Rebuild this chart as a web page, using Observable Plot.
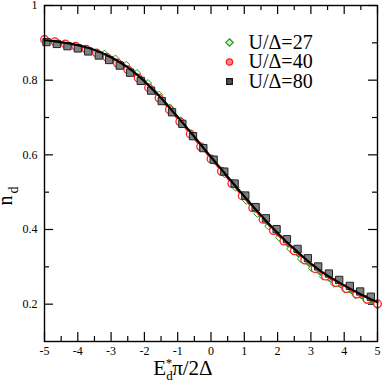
<!DOCTYPE html>
<html>
<head>
<meta charset="utf-8">
<script src="https://cdn.jsdelivr.net/npm/d3@7"></script>
<script src="https://cdn.jsdelivr.net/npm/@observablehq/plot@0.6"></script>
<style>
  html, body { margin: 0; padding: 0; background: #fff; }
  #chart { width: 382px; height: 381px; }
</style>
</head>
<body>
<div id="chart"></div>
<script>
// ---- data ----
const seriesLabels = ["U/Δ=27", "U/Δ=40", "U/Δ=80"];
const seriesColors = ["#1fa01f", "#ff2020", "#000000"];

// U/Δ=27 (green diamonds + line)
const greenX = [-3.2, -2.87, -2.54, -2.22, -1.89, -1.56, -1.23, -0.9, -0.58, -0.25, 0.08, 0.41, 0.74, 1.06, 1.39, 1.72, 2.05, 2.38, 2.7, 3.03, 3.36, 3.69, 4.02, 4.34, 4.67, 5.0];
const greenY = [0.871, 0.858, 0.841, 0.819, 0.792, 0.761, 0.727, 0.692, 0.656, 0.620, 0.584, 0.548, 0.512, 0.477, 0.442, 0.409, 0.378, 0.348, 0.321, 0.296, 0.274, 0.255, 0.239, 0.224, 0.210, 0.197];

// U/Δ=40 (red circles + line)
const redX = [-5.0, -4.688, -4.375, -4.063, -3.75, -3.438, -3.125, -2.813, -2.5, -2.188, -1.875, -1.563, -1.25, -0.938, -0.625, -0.313, 0.0, 0.313, 0.625, 0.938, 1.25, 1.563, 1.875, 2.188, 2.5, 2.813, 3.125, 3.438, 3.75, 4.063, 4.375, 4.688, 5.0];
const redY = [0.909, 0.903, 0.897, 0.891, 0.883, 0.873, 0.861, 0.846, 0.828, 0.806, 0.780, 0.752, 0.721, 0.689, 0.656, 0.622, 0.589, 0.556, 0.523, 0.490, 0.458, 0.427, 0.397, 0.369, 0.343, 0.318, 0.295, 0.275, 0.258, 0.242, 0.227, 0.213, 0.201];

// U/Δ=80 (black squares)
const blackX = [-4.94, -4.63, -4.31, -4.0, -3.69, -3.37, -3.06, -2.74, -2.43, -2.11, -1.8, -1.48, -1.17, -0.86, -0.54, -0.23, 0.08, 0.4, 0.71, 1.03, 1.34, 1.65, 1.97, 2.28, 2.6, 2.91, 3.22, 3.54, 3.85, 4.17, 4.48, 4.8];
const blackY = [0.902, 0.897, 0.891, 0.885, 0.877, 0.866, 0.854, 0.839, 0.820, 0.798, 0.772, 0.744, 0.714, 0.683, 0.650, 0.618, 0.587, 0.555, 0.523, 0.491, 0.460, 0.430, 0.401, 0.374, 0.348, 0.323, 0.301, 0.282, 0.265, 0.249, 0.234, 0.220];

// black solid curve
const lineX = [-5.0, -4.688, -4.375, -4.063, -3.75, -3.438, -3.125, -2.813, -2.5, -2.188, -1.875, -1.563, -1.25, -0.938, -0.625, -0.313, 0.0, 0.313, 0.625, 0.938, 1.25, 1.563, 1.875, 2.188, 2.5, 2.813, 3.125, 3.438, 3.75, 4.063, 4.375, 4.688, 5.0];
const lineY = [0.907, 0.904, 0.900, 0.895, 0.888, 0.879, 0.867, 0.852, 0.834, 0.812, 0.786, 0.758, 0.727, 0.695, 0.662, 0.628, 0.594, 0.561, 0.528, 0.495, 0.463, 0.432, 0.402, 0.374, 0.348, 0.323, 0.300, 0.280, 0.263, 0.247, 0.232, 0.218, 0.205];

// ticks
const majorX = [-5, -4, -3, -2, -1, 0, 1, 2, 3, 4, 5];
const minorX = [-4.5, -3.5, -2.5, -1.5, -0.5, 0.5, 1.5, 2.5, 3.5, 4.5];
const majorY = [0.2, 0.4, 0.6, 0.8, 1.0];
const minorY = [0.3, 0.5, 0.7, 0.9];

// ---- build ----
const zip = (xs, ys) => xs.map((x, i) => ({x, y: ys[i]}));
const green = zip(greenX, greenY);
const red = zip(redX, redY);
const black = zip(blackX, blackY);
const curve = zip(lineX, lineY);

const W = 382, H = 381;
const mL = 44, mR = 5, mT = 5, mB = 40;
const pw = W - mL - mR, ph = H - mT - mB;
const serif = "'Liberation Serif', 'Times New Roman', serif";

const legendMarks = [];
const legendSymbols = ["diamond2", "circle", "square"];
const legendFill = ["#d8f0d8", "#ff8080", "#555"];
const legendStroke = [seriesColors[0], seriesColors[1], "#111"];
const legendR = [3.4, 3.2, 3.2];
seriesLabels.forEach((lab, i) => {
  legendMarks.push(Plot.dot([lab], {frameAnchor: "top-left", dx: 185, dy: 37 + i * 19.5, symbol: legendSymbols[i], r: legendR[i], stroke: legendStroke[i], fill: legendFill[i], strokeWidth: 1.2}));
  legendMarks.push(Plot.text([lab], {frameAnchor: "top-left", dx: 204, dy: 37 + i * 19.5, text: d => d, textAnchor: "start", lineAnchor: "middle", fontSize: 20, fontFamily: serif, fill: "black"}));
});

const chart = Plot.plot({
  width: W, height: H,
  marginLeft: mL, marginRight: mR, marginTop: mT, marginBottom: mB,
  style: {fontFamily: serif, fontSize: "12px", background: "white", color: "black"},
  x: {domain: [-5, 5]},
  y: {domain: [0.1, 1]},
  marks: [
    // ticks (inward) on all four sides
    Plot.tickX(majorX, {x: d => d, insetTop: ph - 9, stroke: "black", strokeWidth: 1.2}),
    Plot.tickX(minorX, {x: d => d, insetTop: ph - 5, stroke: "black", strokeWidth: 1.2}),
    Plot.tickX(majorX, {x: d => d, insetBottom: ph - 9, stroke: "black", strokeWidth: 1.2}),
    Plot.tickX(minorX, {x: d => d, insetBottom: ph - 5, stroke: "black", strokeWidth: 1.2}),
    Plot.tickY(majorY, {y: d => d, insetRight: pw - 9, stroke: "black", strokeWidth: 1.2}),
    Plot.tickY(minorY, {y: d => d, insetRight: pw - 5, stroke: "black", strokeWidth: 1.2}),
    Plot.tickY(majorY, {y: d => d, insetLeft: pw - 9, stroke: "black", strokeWidth: 1.2}),
    Plot.tickY(minorY, {y: d => d, insetLeft: pw - 5, stroke: "black", strokeWidth: 1.2}),
    Plot.axisX({ticks: majorX, tickSize: 0, tickPadding: 5, tickFormat: d => String(d), label: null, fontSize: 12, fontFamily: serif}),
    Plot.axisY({ticks: majorY, tickSize: 0, tickPadding: 7, tickFormat: d => d === 1 ? "1" : d.toFixed(1), label: null, fontSize: 12, fontFamily: serif}),
    // U/Δ=27
    Plot.line(green, {x: "x", y: "y", stroke: seriesColors[0], strokeWidth: 1.6, curve: "monotone-x"}),
    Plot.dot(green, {x: "x", y: "y", symbol: "diamond2", r: 3.2, stroke: seriesColors[0], fill: "white", strokeWidth: 1}),
    // U/Δ=40
    Plot.line(red, {x: "x", y: "y", stroke: seriesColors[1], strokeWidth: 1.5, curve: "monotone-x"}),
    Plot.dot(red, {x: "x", y: "y", symbol: "circle", r: 3.8, stroke: seriesColors[1], fill: "white", strokeWidth: 1.3}),
    // U/Δ=80
    Plot.dot(black, {x: "x", y: "y", symbol: "square", r: 4.1, stroke: "#222", fill: "#808080", strokeWidth: 1}),
    Plot.line(curve, {x: "x", y: "y", stroke: "black", strokeWidth: 2.2, curve: "monotone-x"}),
    Plot.frame({stroke: "black", strokeWidth: 1.4}),
    ...legendMarks
  ]
});

document.getElementById("chart").appendChild(chart);

// axis titles with sub/superscripts
const svg = d3.select(chart);
const xl = svg.append("text")
  .attr("x", 183).attr("y", 375)
  .attr("font-family", serif).attr("font-size", 21).attr("fill", "black");
xl.append("tspan").text("E");
xl.append("tspan").attr("font-size", 13).attr("dy", 5).text("d");
xl.append("tspan").attr("font-size", 13).attr("dx", -7).attr("dy", -13).text("*");
xl.append("tspan").attr("dy", 8).text("π/2Δ");

const yl = svg.append("text")
  .attr("transform", "translate(12,196) rotate(-90)")
  .attr("font-family", serif).attr("font-size", 20).attr("fill", "black");
yl.append("tspan").text("n");
yl.append("tspan").attr("font-size", 14).attr("dy", 6).attr("dx", 2).text("d");
</script>
</body>
</html>
